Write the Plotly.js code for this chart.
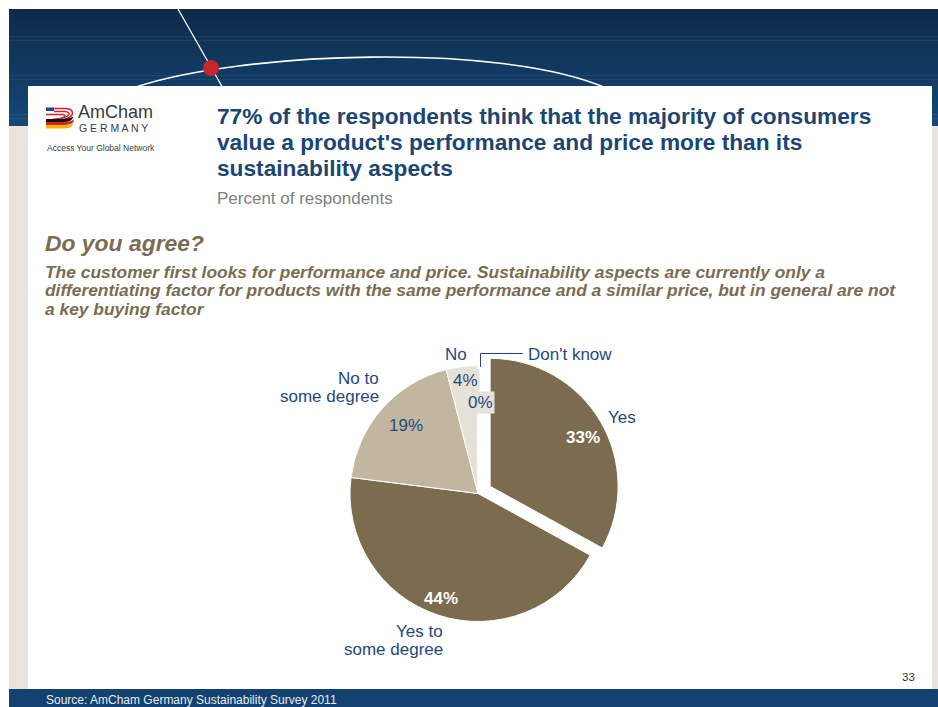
<!DOCTYPE html>
<html>
<head>
<meta charset="utf-8">
<script src="https://cdn.plot.ly/plotly-3.0.1.min.js"></script>
<style>
html, body { margin: 0; padding: 0; background: #ffffff; }
#chart { width: 938px; height: 707px; }
</style>
</head>
<body>
<div id="chart"></div>
<script>
// ---------- data ----------
const categories = ['Yes', 'Yes to some degree', 'No to some degree', 'No', "Don't know"];
const values = [33, 44, 19, 4, 0];
const labelLines = [['Yes'], ['Yes to', 'some degree'], ['No to', 'some degree'], ['No'], ["Don't know"]];
const titleLines = [
  "77% of the respondents think that the majority of consumers",
  "value a product's performance and price more than its",
  "sustainability aspects"
];
const subtitleText = 'Percent of respondents';
const questionText = 'Do you agree?';
const statementLines = [
  'The customer first looks for performance and price. Sustainability aspects are currently only a',
  'differentiating factor for products with the same performance and a similar price, but in general are not',
  'a key buying factor'
];
const sourceText = 'Source: AmCham Germany Sustainability Survey 2011';
const pageNumber = '33';

// ---------- styles ----------
const sliceColors = ['#7B6C4F', '#7B6C4F', '#C2B6A0', '#E6E1D9', '#E6E1D9'];
const slicePull = [0.11, 0, 0, 0, 0];
const FONT = 'Liberation Sans, Arial, Helvetica, sans-serif';
const BLUE = '#1F497D';
const TITLE_BLUE = '#1B4673';
const BROWN = '#7A6C50';
const W = 938, H = 707;
const px = x => x / W;
const py = y => 1 - y / H;

const shapes = [];
function rect(x0, y0, x1, y1, color, layer) {
  shapes.push({type: 'rect', xref: 'paper', yref: 'paper', x0: px(x0), x1: px(x1), y0: py(y1), y1: py(y0),
    fillcolor: color, line: {width: 0}, layer: layer || 'below'});
}
function path(pts, opts) {
  const d = pts.map(p => typeof p === 'string' ? p : (px(p[0]).toFixed(5) + ',' + py(p[1]).toFixed(5))).join(' ');
  shapes.push(Object.assign({type: 'path', xref: 'paper', yref: 'paper', path: d, layer: 'below'}, opts));
}

// header gradient
const gradTop = [14, 43, 75], gradBot = [21, 71, 117];
const N = 30, hy0 = 9, hy1 = 126;
for (let i = 0; i < N; i++) {
  const t = i / (N - 1);
  const c = gradTop.map((v, k) => Math.round(v + (gradBot[k] - v) * t));
  const y0 = hy0 + (hy1 - hy0) * i / N, y1 = hy0 + (hy1 - hy0) * (i + 1) / N + 0.5;
  rect(9, y0, W, Math.min(y1, hy1), `rgb(${c[0]},${c[1]},${c[2]})`);
}
// globe lines
path(['M', [178, 9], 'L', [224, 90]], {line: {color: '#ffffff', width: 1.3}});
path(['M', [136, 87], 'C', [240, 52], [500, 42], [606, 88]], {line: {color: '#ffffff', width: 1.6}});
shapes.push({type: 'circle', xref: 'paper', yref: 'paper', x0: px(203), x1: px(219), y0: py(76), y1: py(60),
  fillcolor: '#C9252C', line: {width: 0}, layer: 'below'});
// beige side strips
rect(9, 126, 28, 690, '#E8E4DD');
rect(932, 126, W, 690, '#E8E4DD');
// white panel
rect(28, 86, 932, 689, '#FFFFFF');
// bottom bar
rect(9, 689, W, H, '#134270');

// logo
rect(46, 107.5, 54, 111, '#2B3F8F');
path(['M', [54, 108.5], 'L', [66, 108.5], 'Q', [73, 109], [72.5, 114], 'Q', [71, 118.5], [57, 121.5]], {line: {color: '#D2232A', width: 1.6}});
path(['M', [54, 111.5], 'L', [65, 111.5], 'Q', [69.5, 112], [69, 114.5], 'Q', [67.5, 117.5], [55, 120.5]], {line: {color: '#D2232A', width: 1.4}});
path(['M', [46, 114.5], 'L', [63, 114.5], 'Q', [66, 115], [64.5, 116.5], 'Q', [62, 118.5], [52, 119.5]], {line: {color: '#D2232A', width: 1.4}});
path(['M', [46, 119], 'L', [62, 119], 'Q', [70, 118.5], [73.5, 116.5], 'Q', [72, 122], [64, 122], 'L', [46, 122], 'Z'], {fillcolor: '#111111', line: {width: 0}});
path(['M', [46, 122], 'L', [64, 122], 'Q', [72, 122], [74, 119], 'Q', [74, 125], [65, 125], 'L', [46, 125], 'Z'], {fillcolor: '#D2232A', line: {width: 0}});
path(['M', [46, 125], 'L', [65, 125], 'Q', [74, 125], [74, 121.5], 'Q', [74, 128], [64, 128.5], 'L', [46, 128.5], 'Z'], {fillcolor: '#F2B600', line: {width: 0}});

// leader line for "Don't know"
path(['M', [480.5, 367], 'L', [480.5, 353.5], 'L', [523, 353.5]], {line: {color: BLUE, width: 1}, layer: 'above'});

// ---------- annotations ----------
const annotations = [];
function ann(text, x, y, o) {
  o = o || {};
  annotations.push(Object.assign({
    text: text, xref: 'paper', yref: 'paper', x: px(x), y: py(y),
    xanchor: o.xa || 'left', yanchor: 'middle', showarrow: false,
    font: {family: FONT, size: o.size || 12, color: o.color || '#000'},
    align: o.xa === 'right' ? 'right' : (o.xa === 'center' ? 'center' : 'left')
  }, o.extra || {}));
}
// logo text
ann('AmCham', 76, 112, {size: 18, color: '#3A3A3A'});
ann('G E R M A N Y', 77, 128, {size: 10.5, color: '#3A3A3A'});
ann('Access Your Global Network', 44.5, 148, {size: 8.5, color: '#3A3A3A'});
// title
titleLines.forEach((t, i) => ann('<b>' + t + '</b>', 215, 115.5 + i * 26.5, {size: 22.7, color: TITLE_BLUE}));
ann(subtitleText, 215, 198, {size: 17, color: '#808080'});
ann('<b><i>' + questionText + '</i></b>', 42.5, 243, {size: 22.9, color: BROWN});
statementLines.forEach((t, i) => ann('<b><i>' + t + '</i></b>', 43, 271.5 + i * 18.5, {size: 17.4, color: BROWN}));
// page number & source
ann(pageNumber, 908, 677, {size: 11.5, color: '#333333', xa: 'center'});
ann(sourceText, 44, 700, {size: 12, color: '#E6ECF3'});

// pie labels
const pct = v => v + '%';
ann(labelLines[0][0], 622, 417, {size: 17, color: BLUE, xa: 'center'});
ann(labelLines[1][0], 445, 631, {size: 17, color: BLUE, xa: 'right'});
ann(labelLines[1][1], 445, 649.5, {size: 17, color: BLUE, xa: 'right'});
ann(labelLines[2][0], 381, 378, {size: 17, color: BLUE, xa: 'right'});
ann(labelLines[2][1], 381, 396.5, {size: 17, color: BLUE, xa: 'right'});
ann(labelLines[3][0], 456, 354, {size: 17, color: BLUE, xa: 'center'});
ann(labelLines[4][0], 526, 354, {size: 17, color: BLUE});
ann('<b>' + pct(values[0]) + '</b>', 583, 437, {size: 17, color: '#FFFFFF', xa: 'center'});
ann('<b>' + pct(values[1]) + '</b>', 441, 598.5, {size: 17, color: '#FFFFFF', xa: 'center'});
ann(pct(values[2]), 406, 425, {size: 17, color: BLUE, xa: 'center'});
ann(pct(values[3]), 465, 381, {size: 17, color: BLUE, xa: 'center', extra: {bgcolor: '#E6E1D9'}});
ann(pct(values[4]), 480, 402, {size: 17, color: BLUE, xa: 'center', extra: {bgcolor: '#E6E1D9', borderpad: 1}});

// ---------- pie ----------
const half = 128 * (1 + Math.max(...slicePull));
const cx = 478, cy = 493.5;
const trace = {
  type: 'pie',
  labels: categories,
  values: values,
  sort: false,
  direction: 'clockwise',
  rotation: 0,
  pull: slicePull,
  marker: {colors: sliceColors, line: {color: '#FFFFFF', width: 1}},
  textinfo: 'none',
  hoverinfo: 'label+percent',
  showlegend: false,
  domain: {x: [px(cx - half), px(cx + half)], y: [py(cy + half), py(cy - half)]}
};

const layout = {
  width: W, height: H,
  margin: {l: 0, r: 0, t: 0, b: 0, pad: 0},
  paper_bgcolor: '#FFFFFF',
  plot_bgcolor: 'rgba(0,0,0,0)',
  showlegend: false,
  shapes: shapes,
  annotations: annotations
};

Plotly.newPlot('chart', [trace], layout, {displayModeBar: false, staticPlot: true});
</script>
</body>
</html>
